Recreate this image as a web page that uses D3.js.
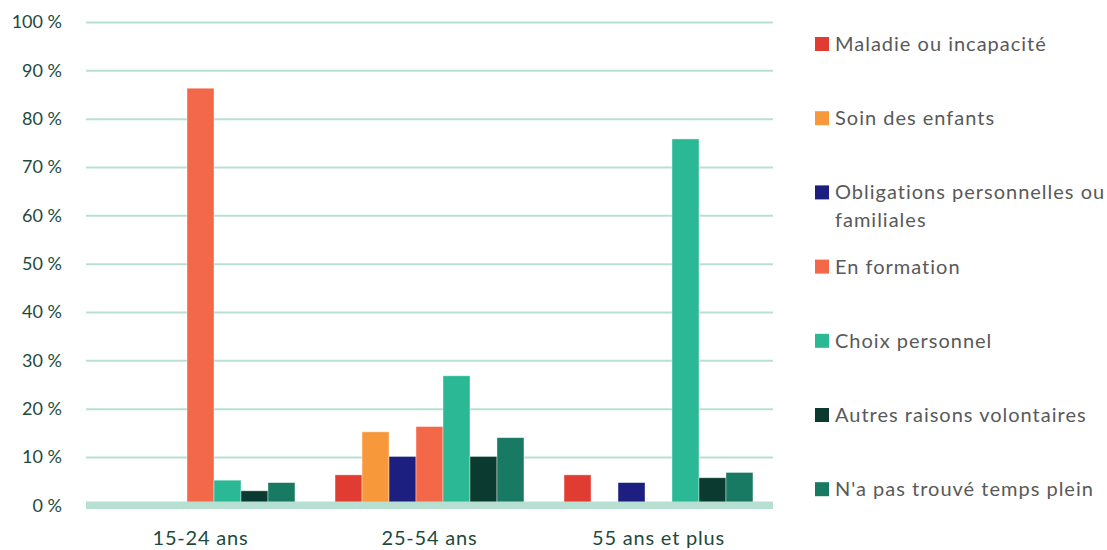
<!DOCTYPE html>
<html lang="fr">
<head>
<meta charset="utf-8">
<title>Raisons du travail à temps partiel selon l'âge</title>
<script src="https://cdn.jsdelivr.net/npm/d3@7"></script>
<style>
  html, body { margin: 0; padding: 0; background: #ffffff; }
  svg { display: block; }
</style>
</head>
<body>
<svg id="chart" width="1107" height="550"></svg>
<script>
// Age groups on the x axis
const ageGroups = ["15-24 ans", "25-54 ans", "55 ans et plus"];

// Reasons (series), in legend order
const reasons = [
  "Maladie ou incapacité",
  "Soin des enfants",
  "Obligations personnelles ou familiales",
  "En formation",
  "Choix personnel",
  "Autres raisons volontaires",
  "N'a pas trouvé temps plein"
];

// Share (%) of each reason within each age group
const maladie      = [0,    6.3,  6.3];
const soinEnfants  = [0,   15.2,  0];
const obligations  = [0,   10.1,  4.7];
const formation    = [86.3, 16.3, 0];
const choix        = [5.2, 26.8, 75.8];
const autres       = [3.0, 10.1,  5.7];
const pasTempsPlein = [4.7, 14.0, 6.8];

const seriesValues = [maladie, soinEnfants, obligations, formation, choix, autres, pasTempsPlein];

const colors = ["#e03c31", "#f7993a", "#1c1f80", "#f26849", "#2ab994", "#0b3b30", "#187a63"];

// Y axis ticks
const yTicks = [0, 10, 20, 30, 40, 50, 60, 70, 80, 90, 100];

// Legend line breaks
const legendLines = [
  ["Maladie ou incapacité"],
  ["Soin des enfants"],
  ["Obligations personnelles ou", "familiales"],
  ["En formation"],
  ["Choix personnel"],
  ["Autres raisons volontaires"],
  ["N'a pas trouvé temps plein"]
];

const svg = d3.select("#chart");
const plot = { left: 86, right: 773, top: 22, bottom: 505.3 };
const fontFamily = "Lato, 'Open Sans', sans-serif";

const x0 = d3.scaleBand()
  .domain(ageGroups)
  .range([plot.left, plot.right])
  .paddingInner(0.175)
  .paddingOuter(0.0875);

const x1 = d3.scaleBand()
  .domain(d3.range(reasons.length))
  .range([0, x0.bandwidth()]);

const y = d3.scaleLinear().domain([0, 100]).range([plot.bottom, plot.top]);

const gridColor = "#b8e0d2";
const axisTextColor = "#1d4a3d";

// Horizontal gridlines and y tick labels
const yAxis = d3.axisLeft(y)
  .tickValues(yTicks)
  .tickSize(-(plot.right - plot.left))
  .tickPadding(24)
  .tickFormat(d => d + " %");

const yg = svg.append("g")
  .attr("transform", `translate(${plot.left},0)`)
  .call(yAxis);
yg.select(".domain").remove();
yg.selectAll(".tick line")
  .attr("stroke", gridColor)
  .attr("stroke-width", 2)
  .filter(d => d === 0).remove();
yg.selectAll(".tick text")
  .attr("fill", axisTextColor)
  .attr("font-family", fontFamily)
  .attr("font-size", 18);

// Bars
const groups = svg.append("g")
  .selectAll("g")
  .data(ageGroups)
  .join("g")
  .attr("transform", d => `translate(${x0(d)},0)`);

groups.selectAll("rect")
  .data((g, gi) => seriesValues.map((vals, si) => ({ si, v: vals[gi] })))
  .join("rect")
  .filter(d => d.v > 0)
  .attr("x", d => x1(d.si))
  .attr("width", x1.bandwidth())
  .attr("y", d => y(d.v))
  .attr("height", d => y(0) - y(d.v))
  .attr("fill", d => colors[d.si])
  .attr("stroke", "#ffffff")
  .attr("stroke-opacity", 0.5)
  .attr("stroke-width", 0.8);

// Baseline band and x axis labels
const xAxis = d3.axisBottom(x0).tickSize(0).tickPadding(26);
const xg = svg.append("g")
  .attr("transform", `translate(0,${y(0)})`)
  .call(xAxis);
xg.select(".domain")
  .attr("d", `M${plot.left},0H${plot.right}`)
  .attr("stroke", gridColor)
  .attr("stroke-width", 7.5);
xg.selectAll(".tick text")
  .attr("fill", axisTextColor)
  .attr("font-family", fontFamily)
  .attr("font-size", 20)
  .attr("letter-spacing", "0.8px");

// Legend
const legend = svg.append("g").attr("transform", "translate(815,0)");
const legendItems = legend.selectAll("g")
  .data(reasons)
  .join("g")
  .attr("transform", (d, i) => `translate(0,${44 + i * 74.2})`);

legendItems.append("rect")
  .attr("x", 0)
  .attr("y", -7)
  .attr("width", 14)
  .attr("height", 14)
  .attr("fill", (d, i) => colors[i]);

legendItems.append("text")
  .attr("x", 20)
  .attr("fill", "#595959")
  .attr("font-family", fontFamily)
  .attr("font-size", 20)
  .attr("letter-spacing", "1px")
  .selectAll("tspan")
  .data((d, i) => legendLines[i])
  .join("tspan")
  .attr("x", 20)
  .attr("y", (d, j) => j * 28)
  .attr("dy", "0.35em")
  .text(d => d);
</script>
</body>
</html>
